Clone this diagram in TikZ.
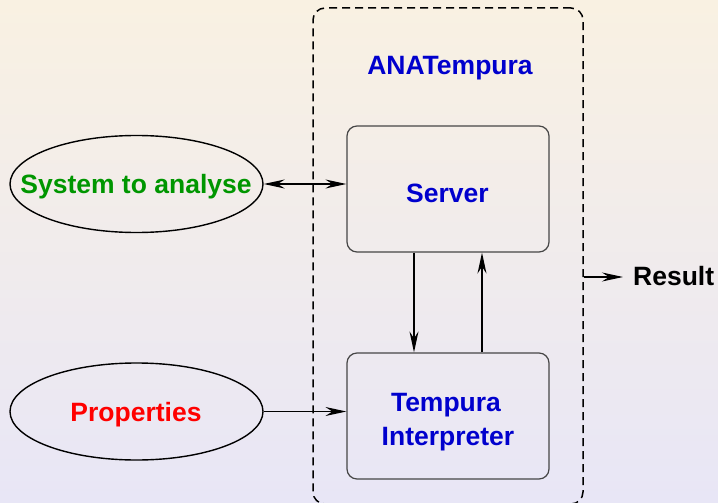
\documentclass[tikz,border=0pt]{standalone}
\usepackage{fontspec}
\setmainfont{Liberation Sans}
\usetikzlibrary{arrows.meta,shapes.geometric}

\definecolor{bgtop}{RGB}{249,241,226}
\definecolor{bgbot}{RGB}{232,230,246}
\definecolor{txtgreen}{RGB}{0,150,0}
\definecolor{txtblue}{RGB}{0,0,205}
\definecolor{txtred}{RGB}{255,0,0}
\definecolor{boxline}{RGB}{70,70,70}

\tikzset{
  lbl/.style={inner sep=0pt, anchor=base, font=\fontsize{26.5}{31}\selectfont\bfseries},
  oval/.style={ellipse, draw=black, line width=1.4pt, minimum width=253pt,
    minimum height=97pt, inner sep=0pt},
  procbox/.style={rectangle, draw=boxline, line width=1.2pt, rounded corners=10pt,
    minimum width=202pt, minimum height=126pt, inner sep=0pt},
  container/.style={rectangle, draw=black, line width=1.5pt, dash pattern=on 8pt off 5pt,
    rounded corners=12pt, minimum width=270pt, minimum height=496pt, inner sep=0pt},
  tip/.tip={Stealth[length=21pt,width=9pt,inset=7pt]},
  arr/.style={line width=1.4pt, -tip},
  dblarr/.style={line width=1.4pt, tip-tip},
}

\begin{document}
\begin{tikzpicture}[x=1pt,y=-1pt]
  % background
  \shade[top color=bgtop, bottom color=bgbot] (0,0) rectangle (718,503);
  \useasboundingbox (0,0) rectangle (718,503);

  % the ANATempura container and its two components
  \node[container] (ana) at (448,256) {};
  \node[procbox] (srv) at (448,189) {};
  \node[procbox] (interp) at (448,416) {};

  % inputs
  \node[oval] (sys) at (136.5,184) {};
  \node[oval] (props) at (136.5,411.5) {};

  % texts
  \node[lbl, text=txtblue] (anatitle) at (450,75) {ANATempura};
  \node[lbl, text=txtblue] (srvtext) at (447.5,202) {Server};
  \node[lbl, text=txtblue] (interptext1) at (446,411) {Tempura};
  \node[lbl, text=txtblue] (interptext2) at (448,445) {Interpreter};
  \node[lbl, text=txtgreen] (systext) at (136,193) {System to analyse};
  \node[lbl, text=txtred] (propstext) at (136,421) {Properties};
  \node[lbl, anchor=west, text height=16pt, text depth=0pt] (restext) at (633,277) {Result};

  % connectors
  \draw[dblarr] (sys.east) -- (sys.east -| srv.west);
  \draw[arr] (props.east) -- (props.east -| interp.west);
  \draw[arr] ([xshift=-34pt]srv.south) -- ([xshift=-34pt]srv.south |- interp.north);
  \draw[arr] ([xshift=34pt]interp.north) -- ([xshift=34pt]interp.north |- srv.south);
  \draw[arr, line width=1.1pt] (restext.west -| ana.east) -- ([xshift=-10pt]restext.west);
\end{tikzpicture}
\end{document}
